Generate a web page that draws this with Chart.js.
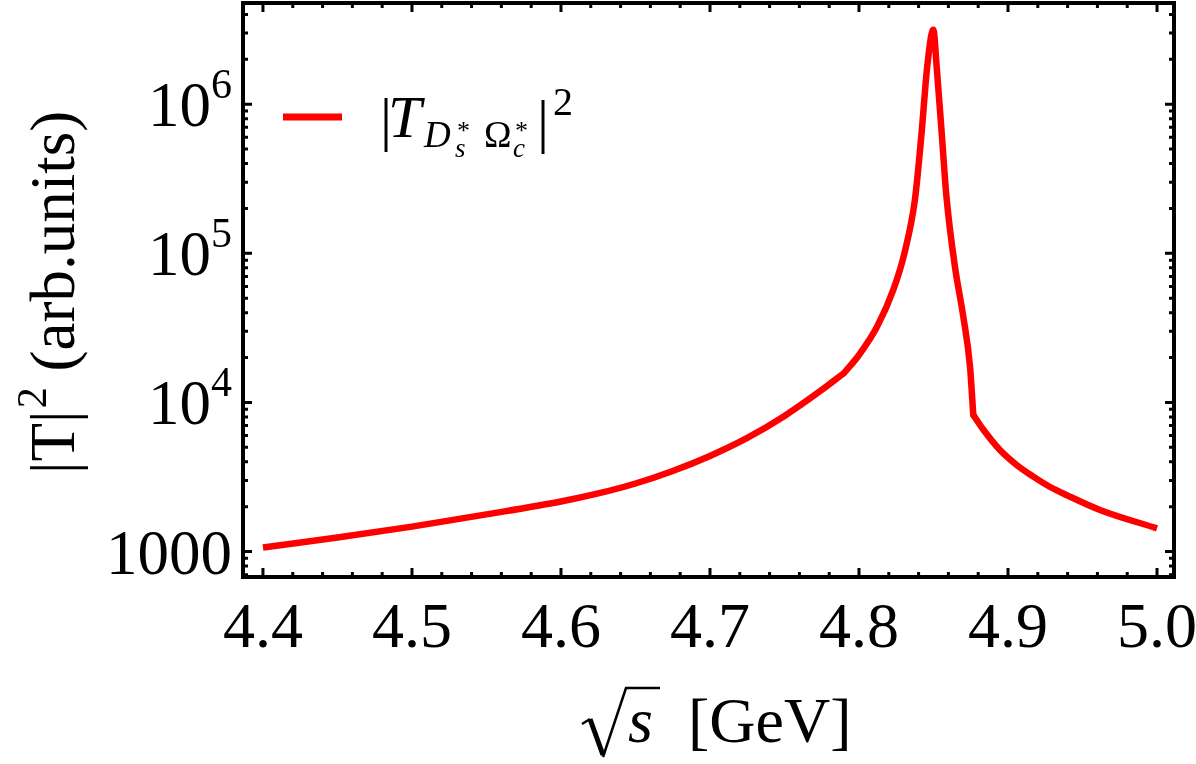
<!DOCTYPE html>
<html>
<head>
<meta charset="utf-8">
<script src="https://cdn.jsdelivr.net/npm/chart.js@4.4.1/dist/chart.umd.min.js"></script>
<style>
  html, body { margin: 0; padding: 0; background: #fff; }
  #wrap { width: 1196px; height: 764px; position: relative; }
</style>
</head>
<body>
<div id="wrap"><canvas id="myChart"></canvas></div>
<script>
// sqrt(s) in GeV, split at the two threshold kinks
const sqrtSLow = [4.40, 4.45, 4.50, 4.55, 4.60, 4.625, 4.65, 4.675, 4.70, 4.725, 4.75, 4.775, 4.79];
const tSqLow = [1066, 1241, 1470, 1775, 2166, 2452, 2860, 3470, 4374, 5775, 8113, 12120, 15760];

const sqrtSPeak = [4.79, 4.80, 4.812, 4.823, 4.831, 4.8375, 4.842, 4.8458, 4.8499, 4.8521, 4.8555,
  4.8587, 4.8644, 4.870, 4.8745, 4.8767];
const tSqPeak = [15760, 20800, 32000, 56800, 105000, 228000, 641000, 1795000, 3160000, 1800000, 640000,
  239000, 81300, 37600, 17400, 8240];

const sqrtSHigh = [4.8767, 4.8835, 4.8946, 4.9058, 4.917, 4.928, 4.9394, 4.9617, 5.00];
const tSqHigh = [8240, 6560, 4800, 3810, 3180, 2720, 2390, 1900, 1430];

const xTicks = [4.4, 4.5, 4.6, 4.7, 4.8, 4.9, 5.0];
const xTickLabels = ["4.4", "4.5", "4.6", "4.7", "4.8", "4.9", "5.0"];
const yTicks = [1000, 10000, 100000, 1000000];
const yTickBase = ["1000", "10", "10", "10"];
const yTickSup = ["", "4", "5", "6"];

const serif = "'Liberation Serif', 'Times New Roman', serif";

const frame = {
  id: "frame",
  afterDatasetsDraw(chart) {
    const { ctx, chartArea: a, scales: { x, y } } = chart;
    ctx.save();
    ctx.strokeStyle = "#000";
    ctx.lineWidth = 3;
    ctx.beginPath();
    // x ticks every 0.02, major every 0.1
    for (let k = 220; k <= 250; k++) {
      const px = x.getPixelForValue(k / 50);
      const len = k % 5 === 0 ? 9 : 5;
      ctx.moveTo(px, a.bottom); ctx.lineTo(px, a.bottom - len);
      ctx.moveTo(px, a.top); ctx.lineTo(px, a.top + len);
    }
    // y ticks (log)
    for (let d = 2; d <= 6; d++) {
      for (let m = 1; m <= 9; m++) {
        const v = m * Math.pow(10, d);
        if (v < y.min || v > y.max) continue;
        const py = y.getPixelForValue(v);
        const len = m === 1 ? 9 : 5;
        ctx.moveTo(a.left, py); ctx.lineTo(a.left + len, py);
        ctx.moveTo(a.right, py); ctx.lineTo(a.right - len, py);
      }
    }
    ctx.stroke();
    ctx.lineWidth = 4;
    ctx.strokeRect(a.left, a.top, a.right - a.left, a.bottom - a.top);

    // tick labels
    ctx.fillStyle = "#000";
    ctx.font = "64px " + serif;
    ctx.textAlign = "center";
    ctx.textBaseline = "alphabetic";
    xTicks.forEach((v, i) => {
      ctx.fillText(xTickLabels[i], x.getPixelForValue(v), 647);
    });
    yTicks.forEach((v, i) => {
      const py = y.getPixelForValue(v);
      const right = 232;
      ctx.textAlign = "right";
      if (yTickSup[i]) {
        ctx.font = "42px " + serif;
        const w = ctx.measureText(yTickSup[i]).width;
        ctx.fillText(yTickSup[i], right, py - 6);
        ctx.font = "63px " + serif;
        ctx.fillText(yTickBase[i], right - w, py + 22);
      } else {
        ctx.font = "63px " + serif;
        ctx.fillText(yTickBase[i], right, py + 22);
      }
    });
    ctx.restore();
  },
  afterDraw(chart) {
    const { ctx } = chart;
    ctx.save();
    ctx.fillStyle = "#000";
    ctx.textAlign = "left";
    ctx.textBaseline = "alphabetic";

    // y axis title
    ctx.save();
    ctx.translate(74, 474);
    ctx.rotate(-Math.PI / 2);
    let cx = 0;
    ctx.font = "63px " + serif;
    ctx.fillText("|T|", cx, 0);
    cx += ctx.measureText("|T|").width + 2;
    ctx.font = "42px " + serif;
    ctx.fillText("2", cx, -28);
    cx += ctx.measureText("2").width;
    ctx.font = "63px " + serif;
    ctx.fillText(" (arb.units)", cx, 0);
    ctx.restore();

    // x axis title: sqrt(s) [GeV]
    ctx.strokeStyle = "#000";
    ctx.lineJoin = "miter";
    ctx.lineWidth = 2.5;
    ctx.beginPath();
    ctx.moveTo(582, 724); ctx.lineTo(590, 719);
    ctx.moveTo(603, 757); ctx.lineTo(626, 688); ctx.lineTo(660, 688);
    ctx.stroke();
    ctx.lineWidth = 5;
    ctx.beginPath();
    ctx.moveTo(590, 719); ctx.lineTo(603, 755);
    ctx.stroke();
    ctx.font = "italic 64px " + serif;
    ctx.fillText("s", 628, 742);
    ctx.font = "64px " + serif;
    ctx.fillText("[GeV]", 688, 742);

    // legend
    ctx.strokeStyle = "#ff0000";
    ctx.lineWidth = 7;
    ctx.beginPath();
    ctx.moveTo(283, 117); ctx.lineTo(342, 117);
    ctx.stroke();
    ctx.font = "60px " + serif;
    ctx.fillText("|", 380, 139);
    ctx.font = "italic 60px " + serif;
    ctx.fillText("T", 388, 137);
    ctx.font = "italic 37px " + serif;
    ctx.fillText("D", 424, 147);
    ctx.font = "26px " + serif;
    ctx.fillText("*", 457, 139);
    ctx.font = "italic 27px " + serif;
    ctx.fillText("s", 455, 157);
    ctx.font = "37px " + serif;
    ctx.fillText("\u03A9", 484, 147);
    ctx.font = "26px " + serif;
    ctx.fillText("*", 515, 139);
    ctx.font = "italic 27px " + serif;
    ctx.fillText("c", 513, 157);
    ctx.font = "60px " + serif;
    ctx.fillText("|", 537, 141);
    ctx.font = "40px " + serif;
    ctx.fillText("2", 553, 115);
    ctx.restore();
  }
};

const lineStyle = {
  borderColor: "#ff0000",
  borderWidth: 6.5,
  pointRadius: 0,
  cubicInterpolationMode: "monotone",
  fill: false,
};

const data = {
  datasets: [
    {
      ...lineStyle,
      label: "low",
      data: sqrtSLow.map((v, i) => ({ x: v, y: tSqLow[i] })),
    },
    {
      ...lineStyle,
      label: "peak",
      borderCapStyle: "round",
      borderJoinStyle: "round",
      data: sqrtSPeak.map((v, i) => ({ x: v, y: tSqPeak[i] })),
    },
    {
      ...lineStyle,
      label: "high",
      data: sqrtSHigh.map((v, i) => ({ x: v, y: tSqHigh[i] })),
    },
  ],
};

const config = {
  type: "line",
  data: data,
  options: {
    responsive: true,
    maintainAspectRatio: false,
    animation: false,
    layout: {
      padding: { left: 243, top: 3, right: 22, bottom: 187 },
    },
    plugins: {
      legend: { display: false },
      tooltip: { enabled: false },
    },
    scales: {
      x: { type: "linear", min: 4.3866, max: 5.0114, display: false },
      y: { type: "logarithmic", min: 675, max: 4770000, display: false },
    },
  },
  plugins: [frame],
};

const myChart = new Chart(document.getElementById("myChart"), config);
</script>
</body>
</html>
